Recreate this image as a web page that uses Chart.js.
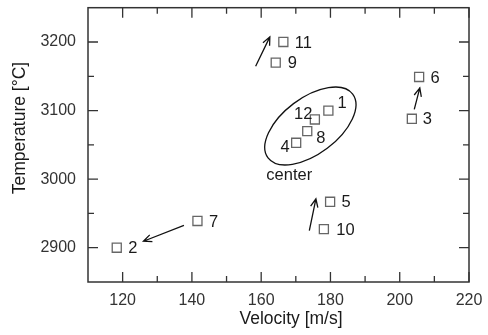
<!DOCTYPE html>
<html><head><meta charset="utf-8">
<script src="https://cdn.jsdelivr.net/npm/chart.js@4/dist/chart.umd.min.js"></script>
<style>html,body{margin:0;padding:0;background:#fff}#wrap{width:488px;height:335px}</style>
</head><body><div id="wrap"><canvas id="c" width="488" height="335"></canvas></div>
<script>
// ---- data ----
const pointIds    = ['1','2','3','4','5','6','7','8','9','10','11','12'];
const velocity    = [179.4, 118.3, 203.5, 170.1, 179.9, 205.6, 141.6, 173.3, 164.2, 178.1, 166.4, 175.5];
const temperature = [3100, 2900, 3088, 3053, 2967, 3149, 2939, 3070, 3170, 2927, 3200, 3087];
const xTickValues = [120, 140, 160, 180, 200, 220];
const yTickValues = [2900, 3000, 3100, 3200];
const xMinorTicks = [130, 150, 170, 190, 210];
const yMinorTicks = [2950, 3050, 3150];
// arrows (data units): tail -> head
const arrowFromX = [158.4, 204.2, 173.9, 137.7];
const arrowFromY = [3164.5, 3101.7, 2925, 2932.6];
const arrowToX   = [162.5, 205.8, 175.8, 126.0];
const arrowToY   = [3207.5, 3133, 2971.3, 2909.4];
// annotation: group ellipse and its caption
const groupCenterX = 174.2, groupCenterY = 3077.5;
const groupCaption = 'center';
const captionX = 168.1, captionY = 3005;

// ---- styling / placement (not data) ----
const labelPlace = [
  [9,-8,'left'],[11.5,0,'left'],[11,0,'left'],[-6.5,4,'right'],
  [11.5,0,'left'],[11.5,0,'left'],[11.5,0,'left'],[9,6.5,'left'],
  [12,0,'left'],[12.5,0,'left'],[11.5,0,'left'],[-2.5,-6,'right']
];
const FONT = 'Liberation Sans, Arial, sans-serif';
const ellipseStyle = {rx:53, ry:28, rot:-37*Math.PI/180};

const overlay = {
  id:'overlay',
  afterDraw(chart){
    const {ctx, chartArea:a, scales:{x, y}} = chart;
    ctx.save();
    // frame
    ctx.strokeStyle = '#333'; ctx.lineWidth = 1.5;
    ctx.strokeRect(a.left, a.top, a.right - a.left, a.bottom - a.top);
    // ticks inward
    ctx.lineWidth = 1.3;
    ctx.beginPath();
    const tx = (v, len) => { const p = x.getPixelForValue(v);
      ctx.moveTo(p, a.bottom); ctx.lineTo(p, a.bottom - len);
      ctx.moveTo(p, a.top); ctx.lineTo(p, a.top + len); };
    const ty = (v, len) => { const p = y.getPixelForValue(v);
      ctx.moveTo(a.left, p); ctx.lineTo(a.left + len, p);
      ctx.moveTo(a.right, p); ctx.lineTo(a.right - len, p); };
    xTickValues.forEach(v => tx(v, 10)); xMinorTicks.forEach(v => tx(v, 6));
    yTickValues.forEach(v => ty(v, 10)); yMinorTicks.forEach(v => ty(v, 6));
    ctx.stroke();
    // arrows
    ctx.strokeStyle = '#111'; ctx.lineWidth = 1.3;
    for (let i = 0; i < arrowFromX.length; i++) {
      const x0 = x.getPixelForValue(arrowFromX[i]), y0 = y.getPixelForValue(arrowFromY[i]);
      const x1 = x.getPixelForValue(arrowToX[i]),   y1 = y.getPixelForValue(arrowToY[i]);
      const ang = Math.atan2(y1 - y0, x1 - x0), L = 9, h = 0.42;
      ctx.beginPath();
      ctx.moveTo(x0, y0); ctx.lineTo(x1, y1);
      ctx.moveTo(x1 - L*Math.cos(ang - h), y1 - L*Math.sin(ang - h));
      ctx.lineTo(x1, y1);
      ctx.lineTo(x1 - L*Math.cos(ang + h), y1 - L*Math.sin(ang + h));
      ctx.stroke();
    }
    // ellipse
    ctx.beginPath();
    ctx.ellipse(x.getPixelForValue(groupCenterX), y.getPixelForValue(groupCenterY),
      ellipseStyle.rx, ellipseStyle.ry, ellipseStyle.rot, 0, Math.PI*2);
    ctx.stroke();
    // point labels
    ctx.fillStyle = '#1a1a1a'; ctx.font = '16.5px ' + FONT; ctx.textBaseline = 'middle';
    pointIds.forEach((t, i) => {
      const p = labelPlace[i];
      ctx.textAlign = p[2];
      ctx.fillText(t, x.getPixelForValue(velocity[i]) + p[0], y.getPixelForValue(temperature[i]) + p[1] + 1);
    });
    ctx.textAlign = 'center';
    ctx.fillText(groupCaption, x.getPixelForValue(captionX), y.getPixelForValue(captionY));
    // axis titles
    ctx.font = '17.5px ' + FONT;
    ctx.fillText('Velocity [m/s]', 291, 319);
    ctx.save();
    ctx.translate(20, 128); ctx.rotate(-Math.PI/2);
    ctx.fillText('Temperature [°C]', 0, 0);
    ctx.restore();
    ctx.restore();
  }
};

new Chart(document.getElementById('c'), {
  type: 'scatter',
  data: { datasets: [{
    data: velocity.map((v, i) => ({x: v, y: temperature[i]})),
    pointStyle: 'rect', pointRadius: 6.4, pointHoverRadius: 6.4,
    borderColor: '#666', borderWidth: 1.3, backgroundColor: 'rgba(255,255,255,0)'
  }]},
  options: {
    responsive: false, animation: false, devicePixelRatio: 1,
    layout: { padding: {top: 5, right: 19, left: 0, bottom: 0} },
    plugins: { legend: {display: false}, tooltip: {enabled: false} },
    scales: {
      x: { type: 'linear', min: 110, max: 220,
        grid: {display: false, drawTicks: false}, border: {display: false},
        ticks: {color: '#333', font: {family: FONT, size: 16}, padding: 9, maxRotation: 0,
          callback: v => String(v)},
        afterBuildTicks: s => { s.ticks = xTickValues.map(v => ({value: v})); },
        afterFit: s => { s.height = 53; s.paddingLeft = 0; s.paddingRight = 0; } },
      y: { type: 'linear', min: 2850, max: 3250,
        grid: {display: false, drawTicks: false}, border: {display: false},
        ticks: {color: '#333', font: {family: FONT, size: 16}, padding: 12,
          callback: v => String(v)},
        afterBuildTicks: s => { s.ticks = yTickValues.map(v => ({value: v})); },
        afterFit: s => { s.width = 88; s.paddingTop = 0; s.paddingBottom = 0; } }
    }
  },
  plugins: [overlay]
});
</script></body></html>
